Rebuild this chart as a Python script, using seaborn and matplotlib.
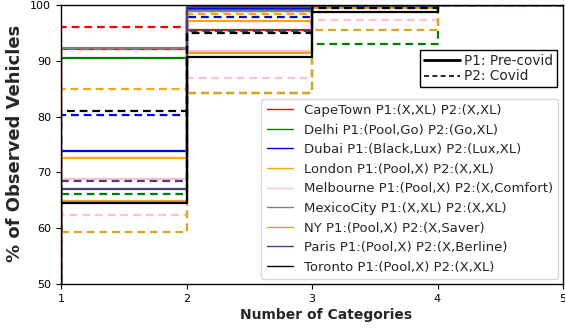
import numpy as np
import pandas as pd
import seaborn as sns
import matplotlib
matplotlib.use("Agg")
import matplotlib.pyplot as plt
from matplotlib.lines import Line2D

# Cumulative share of observed vehicles covered by the top-N categories
categories = [0, 1, 2, 3, 4, 5]

cities = ["CapeTown", "Delhi", "Dubai", "London", "Melbourne",
          "MexicoCity", "NY", "Paris", "Toronto"]
labels = [
    "CapeTown P1:(X,XL) P2:(X,XL)",
    "Delhi P1:(Pool,Go) P2:(Go,XL)",
    "Dubai P1:(Black,Lux) P2:(Lux,XL)",
    "London P1:(Pool,X) P2:(X,XL)",
    "Melbourne P1:(Pool,X) P2:(X,Comfort)",
    "MexicoCity P1:(X,XL) P2:(X,XL)",
    "NY P1:(Pool,X) P2:(X,Saver)",
    "Paris P1:(Pool,X) P2:(X,Berline)",
    "Toronto P1:(Pool,X) P2:(X,XL)",
]
colors = ["red", "green", "blue", "orange", "pink",
          "gray", "goldenrod", "darkslateblue", "black"]

capetown_p1 = [0, 92.2, 95.6, 99.8, 100, 100]
capetown_p2 = [0, 96.0, 99.0, 100, 100, 100]
delhi_p1 = [0, 90.5, 99.2, 100, 100, 100]
delhi_p2 = [0, 66.1, 84.3, 93.1, 100, 100]
dubai_p1 = [0, 73.9, 99.4, 100, 100, 100]
dubai_p2 = [0, 80.2, 97.8, 100, 100, 100]
london_p1 = [0, 72.5, 97.1, 100, 100, 100]
london_p2 = [0, 85.0, 98.3, 99.8, 100, 100]
melbourne_p1 = [0, 68.9, 91.8, 99.6, 100, 100]
melbourne_p2 = [0, 62.4, 87.0, 97.4, 100, 100]
mexicocity_p1 = [0, 92.3, 99.0, 100, 100, 100]
mexicocity_p2 = [0, 92.1, 99.0, 100, 100, 100]
ny_p1 = [0, 64.9, 91.4, 99.5, 100, 100]
ny_p2 = [0, 59.4, 84.3, 95.5, 100, 100]
paris_p1 = [0, 67.0, 99.6, 99.9, 100, 100]
paris_p2 = [0, 68.5, 95.4, 99.8, 100, 100]
toronto_p1 = [0, 64.6, 90.7, 98.7, 100, 100]
toronto_p2 = [0, 81.0, 95.0, 99.5, 100, 100]

p1_values = [capetown_p1, delhi_p1, dubai_p1, london_p1, melbourne_p1,
             mexicocity_p1, ny_p1, paris_p1, toronto_p1]
p2_values = [capetown_p2, delhi_p2, dubai_p2, london_p2, melbourne_p2,
             mexicocity_p2, ny_p2, paris_p2, toronto_p2]

rows = []
for city, v1, v2 in zip(cities, p1_values, p2_values):
    for n, a, b in zip(categories, v1, v2):
        rows.append({"city": city, "period": "P1", "n": n, "pct": a})
        rows.append({"city": city, "period": "P2", "n": n, "pct": b})
df = pd.DataFrame(rows)

sns.set_style("ticks")
plt.rcParams["font.family"] = ["DejaVu Sans"]

fig = plt.figure(figsize=(5.65, 3.32), dpi=100)
ax = fig.add_axes([61 / 565, 1 - 284 / 332, (563 - 61) / 565, (284 - 5) / 332])

palette = dict(zip(cities, colors))
for city in cities:
    sub = df[df.city == city]
    sns.lineplot(data=sub[sub.period == "P1"], x="n", y="pct",
                 color=palette[city], lw=1.6, drawstyle="steps-post",
                 legend=False, ax=ax)
    sns.lineplot(data=sub[sub.period == "P2"], x="n", y="pct",
                 color=palette[city], lw=1.6, ls=(0, (3.5, 2.2)),
                 drawstyle="steps-post", legend=False, ax=ax)

ax.set_xlim(1, 5)
ax.set_ylim(50, 100)
ax.set_xticks([1, 2, 3, 4, 5])
ax.set_yticks([50, 60, 70, 80, 90, 100])
ax.tick_params(labelsize=8, length=3.5, width=0.8, colors="black")
for s in ax.spines.values():
    s.set_color("black")
    s.set_linewidth(1.0)
ax.set_xlabel("Number of Categories", fontsize=10, fontweight="bold")
ax.xaxis.set_label_coords(0.528, -0.085)
ax.set_ylabel("% of Observed Vehicles", fontsize=13, fontweight="bold")
ax.yaxis.set_label_coords(-0.073, 0.505)

city_handles = [Line2D([], [], color=c, lw=1.0) for c in colors]
leg_city = ax.legend(city_handles, labels, loc="lower right",
                     bbox_to_anchor=(0.990, 0.018), borderaxespad=0,
                     fontsize=9.5, labelspacing=0.5, handlelength=2.0,
                     handletextpad=0.8, borderpad=0.4)
ax.add_artist(leg_city)

style_handles = [Line2D([], [], color="black", lw=2.0),
                 Line2D([], [], color="black", lw=1.2, ls=(0, (3, 2)))]
ax.legend(style_handles, ["P1: Pre-covid", "P2: Covid"], loc="upper right",
          bbox_to_anchor=(0.988, 0.839), borderaxespad=0, fontsize=9.8,
          fancybox=False, edgecolor="black", framealpha=1, labelspacing=0.1,
          handlelength=2.6, handletextpad=0.3, borderpad=0.3)

fig.savefig("out.png", dpi=100)
